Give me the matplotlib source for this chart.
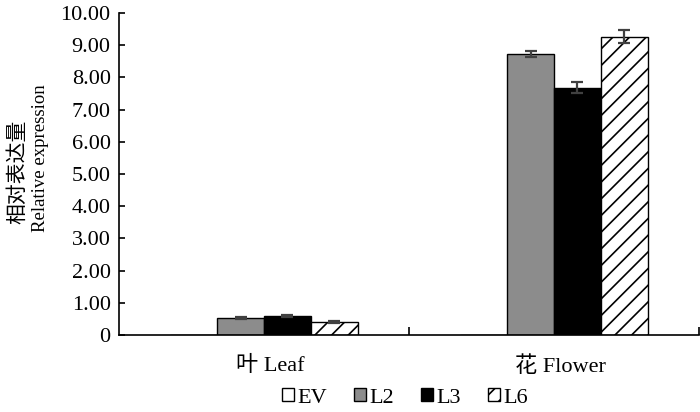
import numpy as np
import matplotlib.pyplot as plt
from matplotlib.ticker import FuncFormatter, FixedLocator
import matplotlib.transforms as mtransforms

plt.rcParams['font.family'] = ['Liberation Serif', 'Noto Sans CJK SC']
plt.rcParams['hatch.linewidth'] = 1.2

# data
groups = ['叶 Leaf', '花 Flower']
series = ['EV', 'L2', 'L3', 'L6']
values = {
    'EV': [0.0, 0.0],
    'L2': [0.52, 8.72],
    'L3': [0.59, 7.68],
    'L6': [0.41, 9.27],
}
errors = {
    'EV': [0.0, 0.0],
    'L2': [0.03, 0.10],
    'L3': [0.04, 0.17],
    'L6': [0.03, 0.21],
}
colors = {'EV': 'white', 'L2': '#8c8c8c', 'L3': 'black', 'L6': 'white'}
hatches = {'EV': None, 'L2': None, 'L3': None, 'L6': '//'}

fig = plt.figure(figsize=(7, 4.12), dpi=100)
ax = fig.add_axes([119 / 700, 77 / 412, 580 / 700, 322 / 412])

x = np.arange(len(groups))
w = 0.162
for i, s in enumerate(series):
    pos = x + (i - 1.5) * w
    ax.bar(pos, values[s], w, color=colors[s], edgecolor='black', linewidth=1.0,
           hatch=hatches[s], label=s, zorder=2)
    if s != 'EV':
        ax.errorbar(pos, values[s], yerr=errors[s], fmt='none', ecolor='#404040',
                    elinewidth=1.6, capsize=4.5, capthick=1.6, zorder=3)

ax.set_xlim(-0.5, 1.5)
ax.set_ylim(0, 10)
ax.set_yticks(np.arange(0, 11, 1))
ax.yaxis.set_major_formatter(FuncFormatter(lambda v, p: '0' if v == 0 else '%.2f' % v))
ax.tick_params(axis='y', direction='in', length=4, width=1.2, labelsize=16, pad=6)
ax.set_xticks(x)
ax.set_xticklabels(groups, fontsize=16)
ax.tick_params(axis='x', which='major', length=0, pad=15)
ax.xaxis.set_minor_locator(FixedLocator([0.5, 1.5]))
ax.tick_params(axis='x', which='minor', direction='in', length=6, width=1.2)
offset = mtransforms.ScaledTranslation(6 / 100, 0, fig.dpi_scale_trans)
for lbl in ax.get_xticklabels():
    lbl.set_transform(lbl.get_transform() + offset)
for sp in ['top', 'right']:
    ax.spines[sp].set_visible(False)
ax.spines['left'].set_linewidth(1.2)
ax.spines['bottom'].set_linewidth(1.2)

fig.text(0.026, 1 - 172 / 412, '相对表达量', rotation=90, ha='center', va='center', fontsize=15)
fig.text(0.058, 1 - 158 / 412, 'Relative expression', rotation=90, ha='center', va='center', fontsize=13.5)

ax.legend(loc='center', bbox_to_anchor=(0.493, -0.195), ncol=4, frameon=False,
          fontsize=16, handlelength=0.55, handleheight=0.55, handletextpad=0.15,
          columnspacing=1.2, borderpad=0)

fig.savefig('out.png', dpi=100)
